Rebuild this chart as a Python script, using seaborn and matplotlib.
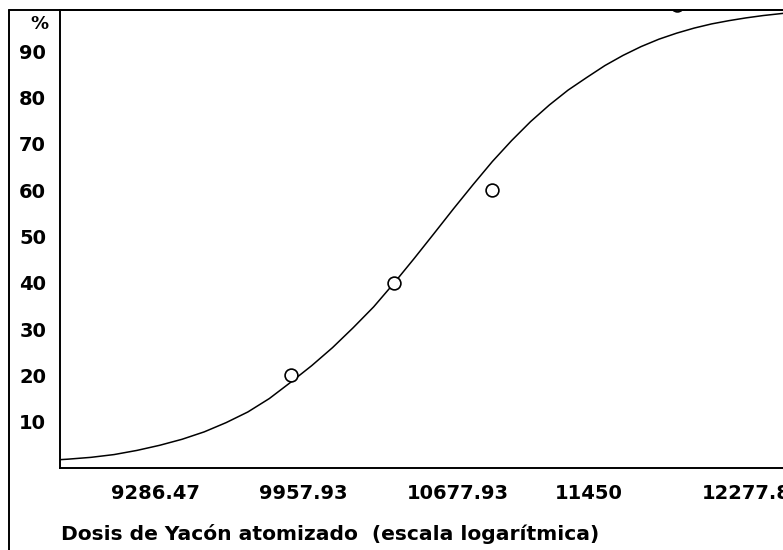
import matplotlib
matplotlib.use("Agg")
import matplotlib.pyplot as plt
from matplotlib.lines import Line2D
from matplotlib.transforms import ScaledTranslation
from matplotlib.ticker import NullFormatter
import numpy as np
import seaborn as sns

# Observed mortality (%) for each dose of atomised yacon
dose_obs = [10000, 10500, 11000, 12000]
pct_obs = [20, 40, 60, 100]

# Fitted dose-response curve
dose_fit = [8968, 9000, 9100, 9200, 9300, 9400, 9500, 9600, 9700, 9800, 9900,
            10000, 10100, 10200, 10300, 10400, 10500, 10600, 10700, 10800,
            10900, 11000, 11100, 11200, 11300, 11400, 11500, 11600, 11700,
            11800, 11900, 12000, 12100, 12200, 12300, 12400, 12500, 12600,
            12650]
pct_fit = [1.8, 1.9, 2.3, 2.9, 3.8, 4.9, 6.2, 7.8, 9.8, 12.1, 15.0,
           18.5, 22.1, 26.0, 30.3, 34.8, 39.9, 45.2, 50.6, 56.0,
           61.2, 66.2, 70.7, 74.8, 78.4, 81.6, 84.3, 86.9, 89.1,
           91.0, 92.6, 93.9, 95.0, 95.9, 96.6, 97.2, 97.7, 98.1,
           98.3]

# Axis ticks
x_tick_values = [9286.47, 9957.93, 10677.93, 11450, 12277.8]
x_tick_labels = ["9286.47", "9957.93", "10677.93", "11450", "12277.8"]
y_tick_values = [10, 20, 30, 40, 50, 60, 70, 80, 90]

sns.set_style("white")
plt.rcParams["font.family"] = ["DejaVu Sans"]
plt.rcParams["font.weight"] = "bold"

W, H = 783, 550
fig = plt.figure(figsize=(W / 100, H / 100), dpi=100)
fig.patch.set_facecolor("white")
ax = fig.add_axes([60 / W, (H - 468) / H, (W - 60) / W, (468 - 10) / H])
ax.set_facecolor("white")
ax.set_xscale("log")

sns.lineplot(x=dose_fit, y=pct_fit, ax=ax, color="black", linewidth=1.1,
             sort=True, zorder=2)
sns.scatterplot(x=dose_obs, y=pct_obs, ax=ax, marker="o", s=85,
                facecolor="white", edgecolor="black", linewidth=1.2,
                zorder=3)

ax.set_xlim(8968, 12618)
ax.set_ylim(0, 98.9)

# major ticks carry the labels, minor ticks sit half-way (in log space)
minor = [np.sqrt(a * b) for a, b in zip(x_tick_values[:-1], x_tick_values[1:])]
ax.set_xticks(x_tick_values, labels=x_tick_labels)
ax.set_xticks(minor, minor=True)
ax.xaxis.set_minor_formatter(NullFormatter())
ax.set_yticks(y_tick_values, labels=[str(v) for v in y_tick_values])

ax.tick_params(axis="x", which="both", direction="inout", length=5.5,
               width=1.0, color="black", pad=9, labelsize=14,
               labelcolor="black")
ax.tick_params(axis="y", direction="inout", length=4, width=1.0,
               color="black", pad=8, labelsize=14, labelcolor="black")
for lab in ax.get_xticklabels():
    lab.set_ha("left")
    lab.set_fontweight("bold")
    lab.set_transform(lab.get_transform()
                      + ScaledTranslation(-23 / 100, 0, fig.dpi_scale_trans))
for lab in ax.get_yticklabels():
    lab.set_fontweight("bold")

for side in ("left", "bottom", "top"):
    ax.spines[side].set_color("black")
    ax.spines[side].set_linewidth(1.4)
ax.spines["right"].set_visible(False)
ax.set_xlabel("")
ax.set_ylabel("")

# outer frame (left and top edges)
fig.add_artist(Line2D([9 / W, 9 / W], [0, 1 - 10 / H], transform=fig.transFigure,
                      color="black", linewidth=1.4))
fig.add_artist(Line2D([9 / W, 1], [1 - 10 / H, 1 - 10 / H], transform=fig.transFigure,
                      color="black", linewidth=1.4))

fig.text(39 / W, 1 - 24 / H, "%", ha="center", va="center",
         fontsize=13, fontweight="bold", color="black")
fig.text(61 / W, 1 - 540 / H, "Dosis de Yacón atomizado  (escala logarítmica)",
         ha="left", va="baseline", fontsize=14.6, fontweight="bold",
         color="black")

fig.savefig("out.png", dpi=100, facecolor="white")
